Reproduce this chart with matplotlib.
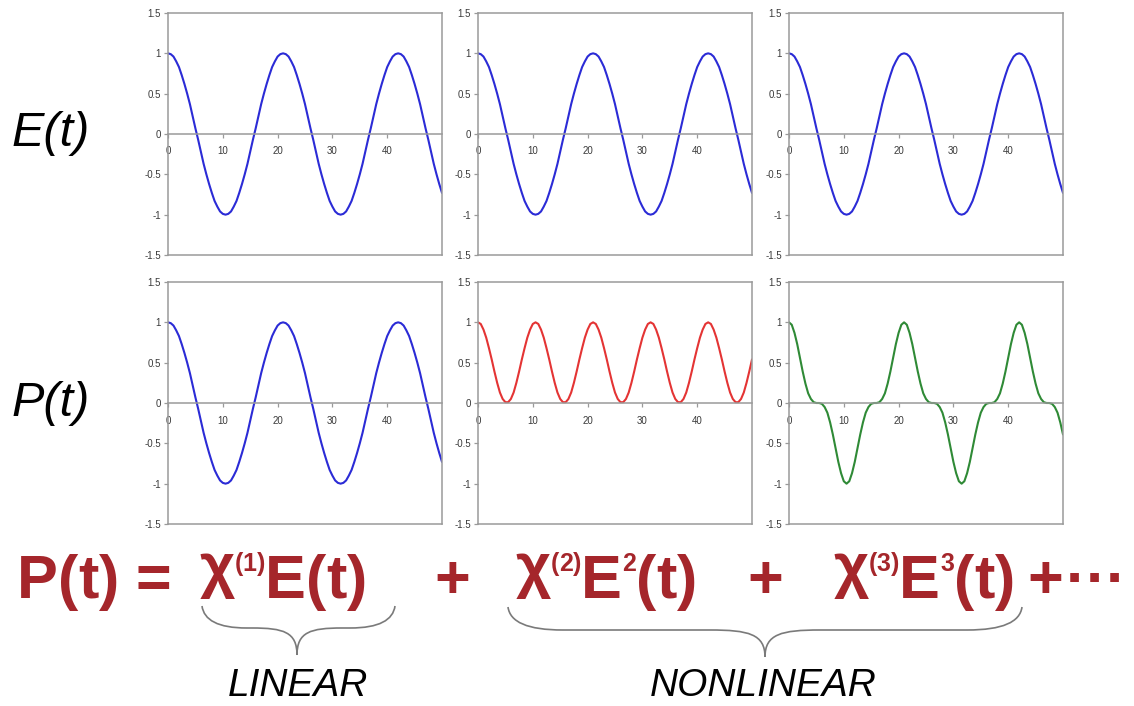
import matplotlib

matplotlib.use("Agg")

import matplotlib.pyplot as plt
from matplotlib.path import Path
from matplotlib.patches import PathPatch

W, H = 1134, 706

# time samples (x axis) and the three waveforms
t_values = [
    0, 0.5, 1, 1.5, 2, 2.5, 3, 3.5, 4, 4.5,
    5, 5.5, 6, 6.5, 7, 7.5, 8, 8.5, 9, 9.5,
    10, 10.5, 11, 11.5, 12, 12.5, 13, 13.5, 14, 14.5,
    15, 15.5, 16, 16.5, 17, 17.5, 18, 18.5, 19, 19.5,
    20, 20.5, 21, 21.5, 22, 22.5, 23, 23.5, 24, 24.5,
    25, 25.5, 26, 26.5, 27, 27.5, 28, 28.5, 29, 29.5,
    30, 30.5, 31, 31.5, 32, 32.5, 33, 33.5, 34, 34.5,
    35, 35.5, 36, 36.5, 37, 37.5, 38, 38.5, 39, 39.5,
    40, 40.5, 41, 41.5, 42, 42.5, 43, 43.5, 44, 44.5,
    45, 45.5, 46, 46.5, 47, 47.5, 48, 48.5, 49, 49.5,
    50,
]
e_field = [
    1.00, 0.99, 0.96, 0.90, 0.83, 0.73, 0.62, 0.50, 0.37, 0.22,
    0.07, -0.07, -0.22, -0.37, -0.50, -0.62, -0.73, -0.83, -0.90, -0.96,
    -0.99, -1.00, -0.99, -0.96, -0.90, -0.83, -0.73, -0.62, -0.50, -0.37,
    -0.22, -0.07, 0.07, 0.22, 0.37, 0.50, 0.62, 0.73, 0.83, 0.90,
    0.96, 0.99, 1.00, 0.99, 0.96, 0.90, 0.83, 0.73, 0.62, 0.50,
    0.37, 0.22, 0.07, -0.07, -0.22, -0.37, -0.50, -0.62, -0.73, -0.83,
    -0.90, -0.96, -0.99, -1.00, -0.99, -0.96, -0.90, -0.83, -0.73, -0.62,
    -0.50, -0.37, -0.22, -0.07, 0.07, 0.22, 0.37, 0.50, 0.62, 0.73,
    0.83, 0.90, 0.96, 0.99, 1.00, 0.99, 0.96, 0.90, 0.83, 0.73,
    0.62, 0.50, 0.37, 0.22, 0.07, -0.07, -0.22, -0.37, -0.50, -0.62,
    -0.73,
]
p_linear = list(e_field)
p_second = [
    1.00, 0.98, 0.91, 0.81, 0.68, 0.54, 0.39, 0.25, 0.13, 0.05,
    0.01, 0.01, 0.05, 0.13, 0.25, 0.39, 0.54, 0.68, 0.81, 0.91,
    0.98, 1.00, 0.98, 0.91, 0.81, 0.68, 0.54, 0.39, 0.25, 0.13,
    0.05, 0.01, 0.01, 0.05, 0.13, 0.25, 0.39, 0.54, 0.68, 0.81,
    0.91, 0.98, 1.00, 0.98, 0.91, 0.81, 0.68, 0.54, 0.39, 0.25,
    0.13, 0.05, 0.01, 0.01, 0.05, 0.13, 0.25, 0.39, 0.54, 0.68,
    0.81, 0.91, 0.98, 1.00, 0.98, 0.91, 0.81, 0.68, 0.54, 0.39,
    0.25, 0.13, 0.05, 0.01, 0.01, 0.05, 0.13, 0.25, 0.39, 0.54,
    0.68, 0.81, 0.91, 0.98, 1.00, 0.98, 0.91, 0.81, 0.68, 0.54,
    0.39, 0.25, 0.13, 0.05, 0.01, 0.01, 0.05, 0.13, 0.25, 0.39,
    0.54,
]
p_third = [
    1.00, 0.97, 0.87, 0.73, 0.56, 0.39, 0.24, 0.12, 0.05, 0.01,
    0.00, 0.00, -0.01, -0.05, -0.12, -0.24, -0.39, -0.56, -0.73, -0.87,
    -0.97, -1.00, -0.97, -0.87, -0.73, -0.56, -0.39, -0.24, -0.12, -0.05,
    -0.01, 0.00, 0.00, 0.01, 0.05, 0.12, 0.24, 0.39, 0.56, 0.73,
    0.87, 0.97, 1.00, 0.97, 0.87, 0.73, 0.56, 0.39, 0.24, 0.12,
    0.05, 0.01, 0.00, 0.00, -0.01, -0.05, -0.12, -0.24, -0.39, -0.56,
    -0.73, -0.87, -0.97, -1.00, -0.97, -0.87, -0.73, -0.56, -0.39, -0.24,
    -0.12, -0.05, -0.01, 0.00, 0.00, 0.01, 0.05, 0.12, 0.24, 0.39,
    0.56, 0.73, 0.87, 0.97, 1.00, 0.97, 0.87, 0.73, 0.56, 0.39,
    0.24, 0.12, 0.05, 0.01, 0.00, 0.00, -0.01, -0.05, -0.12, -0.24,
    -0.39,
]

x_ticks = [0, 10, 20, 30, 40]
y_ticks = [-1.5, -1, -0.5, 0, 0.5, 1, 1.5]
y_tick_labels = ["-1.5", "-1", "-0.5", "0", "0.5", "1", "1.5"]
row_labels = ["E(t)", "P(t)"]

BLUE = "#2B2BD6"
RED_LINE = "#E43434"
GREEN = "#2F8A36"
FRAME = "#9A9A9A"
EQ_RED = "#A5262B"
FONT = "Liberation Sans"

panels = [
    [(e_field, BLUE), (e_field, BLUE), (e_field, BLUE)],
    [(p_linear, BLUE), (p_second, RED_LINE), (p_third, GREEN)],
]
col_left = [168, 478, 789]
row_top = [13, 282]
panel_w, panel_h = 274, 242

plt.rcParams["font.family"] = [FONT, "DejaVu Sans"]
fig = plt.figure(figsize=(W / 100, H / 100), dpi=100)


def px_rect(left, top, w, h):
    return [left / W, 1 - (top + h) / H, w / W, h / H]


def style_axis(ax):
    ax.set_xlim(0, 50)
    ax.set_ylim(-1.5, 1.5)
    for side in ["top", "right", "left"]:
        ax.spines[side].set_color(FRAME)
        ax.spines[side].set_linewidth(1.1)
    ax.spines["bottom"].set_position(("data", 0))
    ax.spines["bottom"].set_color(FRAME)
    ax.spines["bottom"].set_linewidth(1.1)
    ax.plot([0, 1], [0, 0], transform=ax.transAxes, color=FRAME, lw=1.1, clip_on=False)
    ax.set_xticks(x_ticks)
    ax.set_yticks(y_ticks, y_tick_labels)
    ax.tick_params(axis="both", direction="out", length=3, width=0.9, color=FRAME,
                   labelsize=7, labelcolor="#3A3A3A")
    ax.tick_params(axis="x", pad=6)
    ax.tick_params(axis="y", pad=2)


for r, row in enumerate(panels):
    for c, (series, color) in enumerate(row):
        ax = fig.add_axes(px_rect(col_left[c], row_top[r], panel_w, panel_h))
        style_axis(ax)
        ax.plot(t_values, series, color=color, lw=1.5, solid_capstyle="round")
    fig.text(51 / W, 1 - (row_top[r] + panel_h / 2) / H, row_labels[r], fontsize=35,
             style="italic", ha="center", va="center", color="black")

# equation line built from pieces so superscripts sit right
renderer = fig.canvas.get_renderer()
BASE = 598
MAIN, SUP, RISE = 44, 18, 27
CHI_RISE = 12


def draw_group(pieces, center_px, track=0):
    placed = []
    x = 0.0
    for s, size, rise in pieces:
        for ch in s:
            txt = fig.text(0, 0, ch, fontsize=size, color=EQ_RED, fontweight="bold",
                           ha="left", va="baseline")
            w = txt.get_window_extent(renderer).width
            placed.append((txt, x, rise))
            x += w + track * size / MAIN
    total = x - track
    start = center_px - total / 2
    for txt, off, rise in placed:
        txt.set_position(((start + off) / W, 1 - (BASE - rise) / H))


draw_group([("P(t)", MAIN, 0)], 68)
draw_group([("=", MAIN, 0)], 153)
draw_group([("χ", MAIN, CHI_RISE), ("(1)", SUP, RISE), ("E(t)", MAIN, 0)], 283)
draw_group([("+", MAIN, 0)], 452)
draw_group([("χ", MAIN, CHI_RISE), ("(2)", SUP, RISE), ("E", MAIN, 0), ("2", SUP, RISE),
            ("(t)", MAIN, 0)], 606)
draw_group([("+", MAIN, 0)], 765)
draw_group([("χ", MAIN, CHI_RISE), ("(3)", SUP, RISE), ("E", MAIN, 0), ("3", SUP, RISE),
            ("(t)", MAIN, 0)], 924)
draw_group([("+", MAIN, 0)], 1045)
draw_group([("···", MAIN, 0)], 1096)


def brace(x0, x1, xtip, ytop, ymid, ytip, r):
    pts = [
        (x0, ytop), (x0 + 2, ymid - 8), (x0 + r * 0.35, ymid), (x0 + r, ymid),
        (xtip - r, ymid),
        (xtip - r * 0.3, ymid), (xtip, ymid + 4), (xtip, ytip),
        (xtip, ymid + 4), (xtip + r * 0.3, ymid), (xtip + r, ymid),
        (x1 - r, ymid),
        (x1 - r * 0.35, ymid), (x1 - 2, ymid - 8), (x1, ytop),
    ]
    codes = [Path.MOVETO, Path.CURVE4, Path.CURVE4, Path.CURVE4, Path.LINETO,
             Path.CURVE4, Path.CURVE4, Path.CURVE4,
             Path.CURVE4, Path.CURVE4, Path.CURVE4, Path.LINETO,
             Path.CURVE4, Path.CURVE4, Path.CURVE4]
    verts = [(px / W, 1 - py / H) for px, py in pts]
    fig.add_artist(PathPatch(Path(verts, codes), transform=fig.transFigure,
                             fill=False, edgecolor="#7A7A7A", lw=1.2))


brace(202, 395, 297, 606, 628, 655, 45)
brace(508, 1022, 765, 607, 630, 657, 55)

fig.text(298 / W, 1 - 686 / H, "LINEAR", fontsize=28, style="italic", ha="center",
         va="center")
fig.text(763 / W, 1 - 686 / H, "NONLINEAR", fontsize=28, style="italic", ha="center",
         va="center")

fig.savefig("out.png", dpi=100, facecolor="white")
